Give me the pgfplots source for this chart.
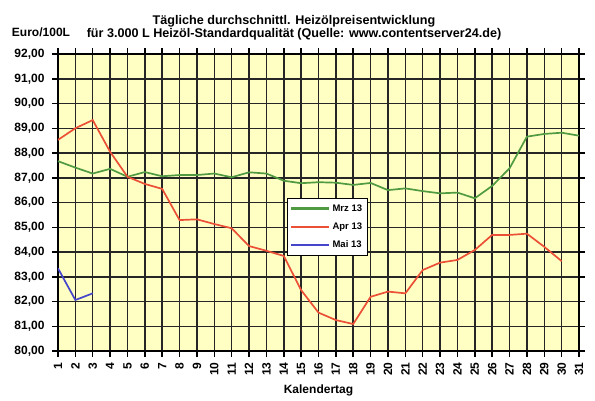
\documentclass[border=0pt]{standalone}
\usepackage{pgfplots}
\pgfplotsset{compat=1.18}
\usepackage{fontspec}
\setmainfont{Liberation Sans}
\definecolor{bgy}{RGB}{255,255,196}
\definecolor{cgreen}{RGB}{80,155,65}
\definecolor{cred}{RGB}{235,80,55}
\definecolor{cblue}{RGB}{70,70,205}
\begin{document}
\begin{tikzpicture}[x=1pt,y=1pt]
\path[use as bounding box] (0,0) rectangle (595,400);
\node[font=\bfseries\fontsize{12.6}{13}\selectfont,align=center] at (294,372) {Tägliche durchschnittl. Heizölpreisentwicklung\\für 3.000 L Heizöl-Standardqualität (Quelle: www.contentserver24.de)};
\node[font=\bfseries\fontsize{12}{14}\selectfont] at (41,368) {Euro/100L};
\begin{axis}[
  at={(58pt,49pt)}, anchor=south west,
  scale only axis, width=521pt, height=297pt,
  xmin=1, xmax=31, ymin=80, ymax=92,
  xtick={1,...,31}, ytick={80,81,...,92},
  axis background/.style={fill=bgy},
  grid=major, major grid style={black!85, line width=1.5pt},
  axis line style={black, line width=1.5pt},
  tick style={black, line width=1.5pt},
  tick align=outside, major tick length=6pt,
  xticklabel style={rotate=90, anchor=east, xshift=-2pt, font=\bfseries\fontsize{12}{14}\selectfont},
  yticklabel style={xshift=-4pt, font=\bfseries\fontsize{12}{14}\selectfont},
  /pgf/number format/assume math mode=true,
  y tick label style={/pgf/number format/.cd, fixed, fixed zerofill, precision=2, use comma},
  xlabel={Kalendertag}, xlabel style={font=\bfseries\fontsize{12}{14}\selectfont, yshift=-2pt},
  legend style={at={(0.4395,0.515)}, anchor=north west, draw=black, line width=0.8pt, fill=white, font=\bfseries\fontsize{9.5}{11}\selectfont, row sep=6pt, inner xsep=3pt, inner ysep=4pt},
  legend cell align=left,
  legend image code/.code={\draw[#1] (0pt,0pt) -- (38pt,0pt);},
  legend image post style={line width=2.2pt},
]
\addplot[cgreen, line width=1.7pt] coordinates {
(1,87.67)(2,87.41)(3,87.17)(4,87.36)(5,87.04)(6,87.23)(7,87.06)(8,87.11)(9,87.11)(10,87.17)
(11,87.02)(12,87.22)(13,87.17)(14,86.88)(15,86.78)(16,86.82)(17,86.80)(18,86.71)(19,86.79)(20,86.50)
(21,86.57)(22,86.46)(23,86.37)(24,86.40)(25,86.17)(26,86.67)(27,87.38)(28,88.66)(29,88.77)(30,88.82)(31,88.70)};
\addlegendentry{Mrz 13}
\addplot[cred, line width=1.7pt] coordinates {
(1,88.53)(2,89.00)(3,89.33)(4,88.05)(5,87.04)(6,86.75)(7,86.55)(8,85.29)(9,85.32)(10,85.13)
(11,84.96)(12,84.24)(13,84.05)(14,83.84)(15,82.46)(16,81.55)(17,81.25)(18,81.09)(19,82.19)(20,82.40)
(21,82.33)(22,83.27)(23,83.57)(24,83.68)(25,84.08)(26,84.69)(27,84.69)(28,84.74)(29,84.21)(30,83.63)};
\addlegendentry{Apr 13}
\addplot[cblue, line width=1.7pt] coordinates {(1,83.34)(2,82.06)(3,82.33)};
\addlegendentry{Mai 13}
\end{axis}
\end{tikzpicture}
\end{document}
